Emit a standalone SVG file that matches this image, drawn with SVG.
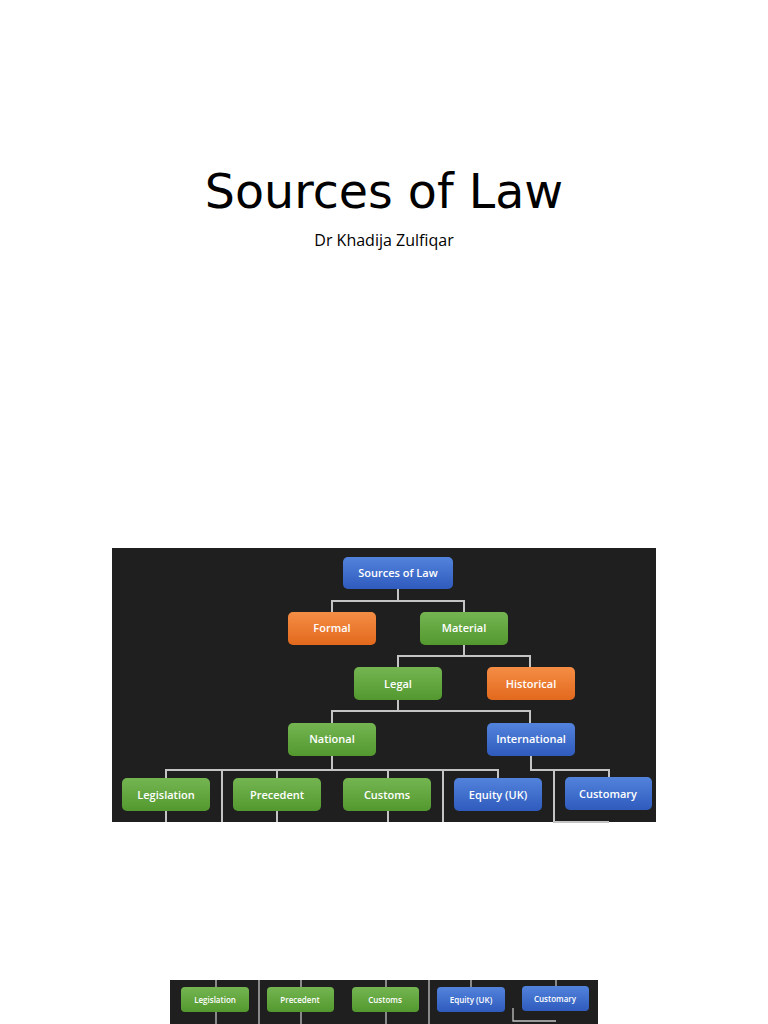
<svg xmlns="http://www.w3.org/2000/svg" width="768" height="1024" viewBox="0 0 768 1024">
<defs>
<linearGradient id="gb" x1="0" y1="0" x2="0" y2="1"><stop offset="0" stop-color="#5283dc"/><stop offset="1" stop-color="#2f5bbd"/></linearGradient>
<linearGradient id="gg" x1="0" y1="0" x2="0" y2="1"><stop offset="0" stop-color="#74b551"/><stop offset="1" stop-color="#53982f"/></linearGradient>
<linearGradient id="go" x1="0" y1="0" x2="0" y2="1"><stop offset="0" stop-color="#f58d45"/><stop offset="1" stop-color="#e2691d"/></linearGradient>
<style>
.t{font-family:"Open Sans","Liberation Sans",sans-serif;font-weight:600;fill:#fff;text-anchor:middle}
.s{font-size:11px}
.xs{font-size:8px}
.c{stroke:#c4c4c4;stroke-width:2;fill:none}
.cs{stroke:#c4c4c4;stroke-width:1.3;fill:none}
.b{fill:url(#gb)}.g{fill:url(#gg)}.o{fill:url(#go)}
</style>
</defs>
<rect width="768" height="1024" fill="#fff"/>
<text x="384" y="208" font-family="DejaVu Sans,sans-serif" font-size="47.5" text-anchor="middle" fill="#000">Sources of Law</text>
<text x="384" y="246" font-family="Open Sans,Liberation Sans,sans-serif" font-size="16" text-anchor="middle" fill="#000">Dr Khadija Zulfiqar</text>

<rect x="112" y="548" width="544" height="274" fill="#1f1f1f"/>
<rect x="170" y="980" width="428" height="44" fill="#1f1f1f"/>

<g id="connectors">
<path class="c" d="M398 589V601M332 612V601H464V612"/>
<path class="c" d="M464 645V656M398 667V656H530V667"/>
<path class="c" d="M398 700V711M332 723V711H530V723"/>
<path class="c" d="M332 756V770M166 778V770H498V778M277 770V778M388 770V778M222 770V822M443 770V822"/>
<path class="c" d="M531 756V770H609V777M554 770V822H609"/>
<path class="c" d="M166 811V822M277 811V822M388 811V822"/>
<path class="cs" d="M216 980V987M301 980V987M386 980V987M471 980V987M556 980V986M259 980V1024M429 980V1024M513 1008V1021H556"/>
<path class="cs" d="M216 1012V1024M301 1012V1024M386 1012V1024"/>
</g>

<g id="sources"><rect class="b" x="343" y="557" width="110" height="32" rx="5"/><text class="t s" x="398" y="577">Sources of Law</text></g>
<g id="formal"><rect class="o" x="288" y="612" width="88" height="33" rx="5"/><text class="t s" x="332" y="632">Formal</text></g>
<g id="material"><rect class="g" x="420" y="612" width="88" height="33" rx="5"/><text class="t s" x="464" y="632">Material</text></g>
<g id="legal"><rect class="g" x="354" y="667" width="88" height="33" rx="5"/><text class="t s" x="398" y="688">Legal</text></g>
<g id="historical"><rect class="o" x="487" y="667" width="88" height="33" rx="5"/><text class="t s" x="531" y="688">Historical</text></g>
<g id="national"><rect class="g" x="288" y="723" width="88" height="33" rx="5"/><text class="t s" x="332" y="743">National</text></g>
<g id="international"><rect class="b" x="487" y="723" width="88" height="33" rx="5"/><text class="t s" x="531" y="743">International</text></g>
<g id="legislation"><rect class="g" x="122" y="778" width="88" height="33" rx="5"/><text class="t s" x="166" y="799">Legislation</text></g>
<g id="precedent"><rect class="g" x="233" y="778" width="88" height="33" rx="5"/><text class="t s" x="277" y="799">Precedent</text></g>
<g id="customs"><rect class="g" x="343" y="778" width="88" height="33" rx="5"/><text class="t s" x="387" y="799">Customs</text></g>
<g id="equity"><rect class="b" x="454" y="778" width="88" height="33" rx="5"/><text class="t s" x="498" y="799">Equity (UK)</text></g>
<g id="customary"><rect class="b" x="565" y="777" width="87" height="33" rx="5"/><text class="t s" x="608" y="798">Customary</text></g>

<g id="legislation2"><rect class="g" x="181" y="987" width="68" height="25" rx="4"/><text class="t xs" x="215" y="1002.5">Legislation</text></g>
<g id="precedent2"><rect class="g" x="267" y="987" width="67" height="25" rx="4"/><text class="t xs" x="300" y="1002.5">Precedent</text></g>
<g id="customs2"><rect class="g" x="352" y="987" width="67" height="25" rx="4"/><text class="t xs" x="385" y="1002.5">Customs</text></g>
<g id="equity2"><rect class="b" x="437" y="987" width="68" height="25" rx="4"/><text class="t xs" x="471" y="1002.5">Equity (UK)</text></g>
<g id="customary2"><rect class="b" x="522" y="986" width="67" height="25" rx="4"/><text class="t xs" x="555" y="1001.5">Customary</text></g>
</svg>
